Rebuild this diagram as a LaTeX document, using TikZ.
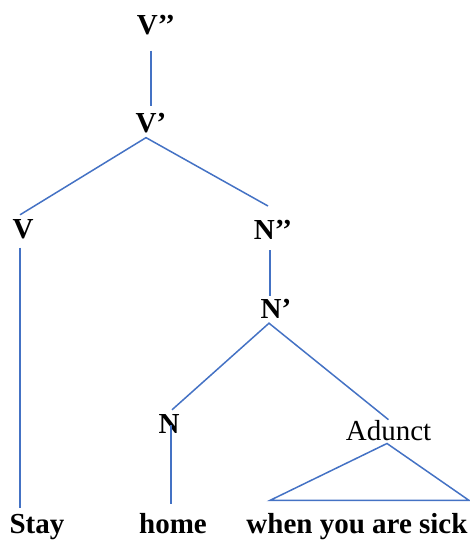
\documentclass[tikz,border=0pt]{standalone}
\usepackage{fontspec}
\setmainfont{Liberation Serif}
\begin{document}
\begin{tikzpicture}[x=1pt,y=1pt,
  lab/.style={anchor=base,inner sep=0pt,font=\fontsize{29}{32}\selectfont\bfseries},
  labr/.style={anchor=base,inner sep=0pt,font=\fontsize{29}{32}\selectfont},
  edge/.style={draw={rgb,255:red,68;green,114;blue,196},line width=1.5pt}]
\useasboundingbox (0,0) rectangle (469,-541);
\node[lab] (Vpp) at (156,-34) {V’’};
\node[lab] (Vp) at (151,-132) {V’};
\node[lab] (V) at (23,-238) {V};
\node[lab] (Npp) at (273,-239) {N’’};
\node[lab] (Np) at (276,-318) {N’};
\node[lab] (N) at (169,-433) {N};
\node[labr] (Adj) at (388.5,-440) {Adunct};
\node[lab] (Stay) at (37,-533) {Stay};
\node[lab] (home) at (173,-533) {home};
\node[lab] (sick) at (357,-533) {when you are sick};
% connectors
\draw[edge] ([xshift=-5pt,yshift=-16pt]Vpp.south) -- ([yshift=7pt]Vp.north);
\draw[edge] ([xshift=-3pt,yshift=4pt]V.north) -- ([xshift=-5pt,yshift=-5pt]Vp.south) -- ([xshift=-5pt,yshift=13.5pt]Npp.north);
\draw[edge] ([xshift=-3pt,yshift=-9pt]V.south) -- ([xshift=-17pt,yshift=6pt]Stay.north);
\draw[edge] ([xshift=-3pt,yshift=-11pt]Npp.south) -- ([xshift=-6pt,yshift=3pt]Np.north);
\draw[edge] ([xshift=3pt,yshift=4pt]N.north) -- ([xshift=-7pt,yshift=-5pt]Np.south) -- ([yshift=0pt]Adj.north);
\draw[edge] ([xshift=2pt,yshift=8pt]N.south) -- ([xshift=-2pt,yshift=8.5pt]home.north);
\draw[edge] ([xshift=-1.5pt,yshift=-3pt]Adj.south) -- ([xshift=-87pt,yshift=12.3pt]sick.north) -- ([xshift=112pt,yshift=12.3pt]sick.north) -- cycle;
\end{tikzpicture}
\end{document}
